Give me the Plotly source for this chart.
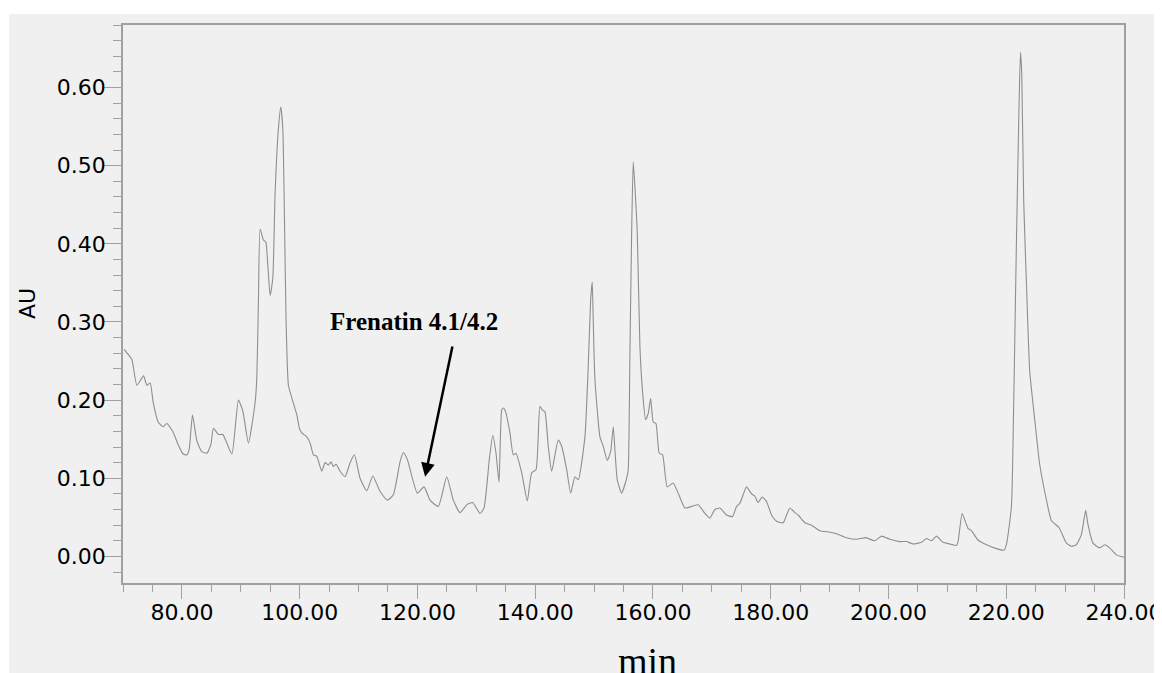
import plotly.graph_objects as go

# Retention time (min) and absorbance (AU)
time_min = [
    70.20, 70.93, 71.51, 72.36, 73.48, 74.06, 74.62, 75.13, 75.97, 76.82,
    77.45, 78.52, 79.37, 80.22, 80.85, 81.24, 81.80, 82.54, 83.39, 84.24,
    84.92, 85.36, 86.21, 86.96, 88.48, 89.60, 90.35, 91.30, 92.44, 92.73,
    93.00, 93.29, 93.85, 94.26, 94.60, 94.99, 95.44, 95.83, 96.39, 96.80,
    97.14, 97.41, 97.70, 98.09, 98.67, 99.52, 99.96, 100.37, 101.21, 101.78,
    102.34, 102.91, 103.76, 104.32, 104.88, 105.34, 105.73, 106.19, 106.87, 107.72,
    108.57, 109.30, 110.26, 111.40, 112.42, 113.66, 114.90, 115.92, 117.05, 117.61,
    118.29, 119.99, 121.13, 122.14, 123.55, 124.98, 126.10, 127.24, 128.37, 129.39,
    130.63, 131.31, 132.21, 132.79, 133.35, 133.86, 134.31, 134.59, 134.99, 135.72,
    136.28, 136.74, 137.71, 138.66, 139.41, 140.14, 140.81, 141.27, 141.66, 142.22,
    142.80, 143.92, 144.50, 145.35, 146.03, 146.76, 147.32, 148.45, 149.01, 149.42,
    149.69, 149.86, 150.15, 151.00, 151.56, 152.24, 152.82, 153.26, 153.55, 153.94,
    154.68, 155.53, 155.80, 156.09, 156.38, 156.65, 156.94, 157.33, 157.79, 158.25,
    158.76, 159.20, 159.61, 160.05, 160.51, 161.07, 161.64, 162.42, 163.44, 164.29,
    165.43, 166.56, 167.69, 168.82, 169.67, 170.52, 171.37, 172.51, 173.52, 174.20,
    174.76, 175.32, 175.90, 176.75, 177.31, 177.87, 178.55, 179.30, 180.14, 180.99,
    182.11, 182.69, 183.25, 184.10, 184.66, 185.80, 186.93, 188.34, 190.04, 191.18,
    192.87, 194.57, 196.15, 197.68, 198.82, 200.22, 201.92, 203.06, 204.18, 205.60,
    206.45, 207.30, 208.15, 209.27, 210.41, 211.55, 211.82, 212.50, 212.95, 213.51,
    214.09, 215.21, 216.64, 218.34, 219.63, 220.03, 220.88, 221.27, 221.73, 222.12,
    222.41, 222.63, 222.97, 223.43, 223.99, 224.84, 225.68, 226.70, 227.67, 228.96,
    230.22, 231.07, 231.91, 232.76, 233.49, 233.88, 234.73, 235.87, 236.72, 237.57,
    238.70, 239.99,
]
absorbance = [
    0.265, 0.258, 0.252, 0.219, 0.231, 0.219, 0.222, 0.197, 0.172, 0.166,
    0.170, 0.159, 0.143, 0.131, 0.130, 0.137, 0.181, 0.148, 0.134, 0.132,
    0.143, 0.164, 0.156, 0.156, 0.131, 0.200, 0.186, 0.145, 0.197, 0.230,
    0.328, 0.419, 0.405, 0.402, 0.372, 0.334, 0.356, 0.465, 0.547, 0.575,
    0.547, 0.438, 0.301, 0.219, 0.203, 0.181, 0.164, 0.158, 0.153, 0.145,
    0.130, 0.128, 0.109, 0.120, 0.117, 0.121, 0.115, 0.118, 0.109, 0.102,
    0.120, 0.130, 0.100, 0.084, 0.103, 0.083, 0.072, 0.079, 0.121, 0.133,
    0.124, 0.081, 0.089, 0.072, 0.064, 0.102, 0.072, 0.056, 0.066, 0.069,
    0.055, 0.062, 0.124, 0.155, 0.132, 0.095, 0.187, 0.190, 0.185, 0.158,
    0.130, 0.132, 0.107, 0.071, 0.107, 0.111, 0.192, 0.187, 0.185, 0.141,
    0.109, 0.149, 0.141, 0.111, 0.081, 0.102, 0.098, 0.153, 0.243, 0.328,
    0.351, 0.302, 0.226, 0.153, 0.141, 0.123, 0.134, 0.166, 0.136, 0.098,
    0.081, 0.100, 0.111, 0.260, 0.413, 0.505, 0.473, 0.417, 0.268, 0.209,
    0.175, 0.183, 0.202, 0.172, 0.170, 0.132, 0.130, 0.089, 0.094, 0.081,
    0.062, 0.064, 0.066, 0.055, 0.049, 0.060, 0.062, 0.053, 0.051, 0.064,
    0.068, 0.079, 0.089, 0.080, 0.077, 0.069, 0.076, 0.070, 0.053, 0.045,
    0.043, 0.053, 0.062, 0.056, 0.053, 0.043, 0.040, 0.033, 0.031, 0.029,
    0.024, 0.022, 0.024, 0.020, 0.026, 0.022, 0.019, 0.019, 0.016, 0.018,
    0.023, 0.020, 0.026, 0.018, 0.016, 0.014, 0.019, 0.055, 0.047, 0.036,
    0.033, 0.021, 0.015, 0.010, 0.008, 0.015, 0.064, 0.196, 0.402, 0.557,
    0.645, 0.619, 0.454, 0.350, 0.237, 0.175, 0.118, 0.077, 0.046, 0.037,
    0.017, 0.013, 0.015, 0.028, 0.059, 0.041, 0.017, 0.011, 0.015, 0.011,
    0.002, -0.001,
]

x_tick_vals = [80, 100, 120, 140, 160, 180, 200, 220, 240]
y_tick_vals = [0.0, 0.1, 0.2, 0.3, 0.4, 0.5, 0.6]

annot_label = "Frenatin 4.1/4.2"
annot_tip = (121.3, 0.102)
annot_tail = (126.0, 0.2705)

BG = "#f0f0f0"
AX = "#a0a0a0"

fig = go.Figure()
fig.add_trace(go.Scatter(
    x=time_min, y=absorbance, mode="lines",
    line=dict(color="#8e8e8e", width=1.1, shape="spline", smoothing=0.5),
    showlegend=False, hoverinfo="skip",
))

tickfont = dict(family="DejaVu Sans", size=22, color="black")

fig.update_xaxes(
    range=[70, 240], tickvals=x_tick_vals, tickformat=".2f",
    showgrid=False, zeroline=False, automargin=False,
    showline=True, linecolor=AX, linewidth=1.5, mirror=True,
    ticks="outside", ticklen=14, tickcolor=AX, tickwidth=1,
    minor=dict(dtick=5, tick0=0, ticks="outside", ticklen=7, tickcolor=AX, tickwidth=1, showgrid=False),
    tickfont=tickfont, ticklabeloverflow="allow", ticklabelstandoff=-5,
)
fig.update_yaxes(
    range=[-0.034, 0.68], tickvals=y_tick_vals, tickformat=".2f",
    showgrid=False, zeroline=False, automargin=False,
    showline=True, linecolor=AX, linewidth=1.5, mirror=True,
    ticks="outside", ticklen=17, tickcolor=AX, tickwidth=1,
    minor=dict(dtick=0.02, tick0=0, ticks="outside", ticklen=8, tickcolor=AX, tickwidth=1, showgrid=False),
    tickfont=tickfont, ticklabelstandoff=-6,
)

fig.add_shape(
    type="rect", xref="paper", yref="paper",
    x0=-0.1139, x1=1.1, y0=-0.3, y1=1.0197,
    fillcolor=BG, line=dict(width=0), layer="below",
)

fig.add_annotation(
    x=annot_tip[0], y=annot_tip[1], ax=annot_tail[0], ay=annot_tail[1],
    xref="x", yref="y", axref="x", ayref="y",
    text="", showarrow=True, arrowhead=2, arrowsize=1.1, arrowwidth=2.5,
    arrowcolor="black", standoff=0,
)
fig.add_annotation(
    x=119.43, y=0.300, xref="x", yref="y", text="<b>" + annot_label + "</b>",
    showarrow=False, font=dict(family="Liberation Serif", size=25, color="black"),
)
fig.add_annotation(
    x=-0.0959, y=0.5, xref="paper", yref="paper", text="AU", textangle=-90,
    xanchor="center", yanchor="middle",
    showarrow=False, font=dict(family="DejaVu Sans", size=22, color="black"),
)
fig.add_annotation(
    x=0.5235, y=-0.14, xref="paper", yref="paper", text="min",
    xanchor="center", yanchor="middle", showarrow=False,
    font=dict(family="Liberation Serif", size=38, color="black"),
)

fig.update_layout(
    width=1170, height=690,
    margin=dict(l=115, r=54, t=17, b=115),
    paper_bgcolor="white", plot_bgcolor=BG,
)

fig.write_html("out.html")
